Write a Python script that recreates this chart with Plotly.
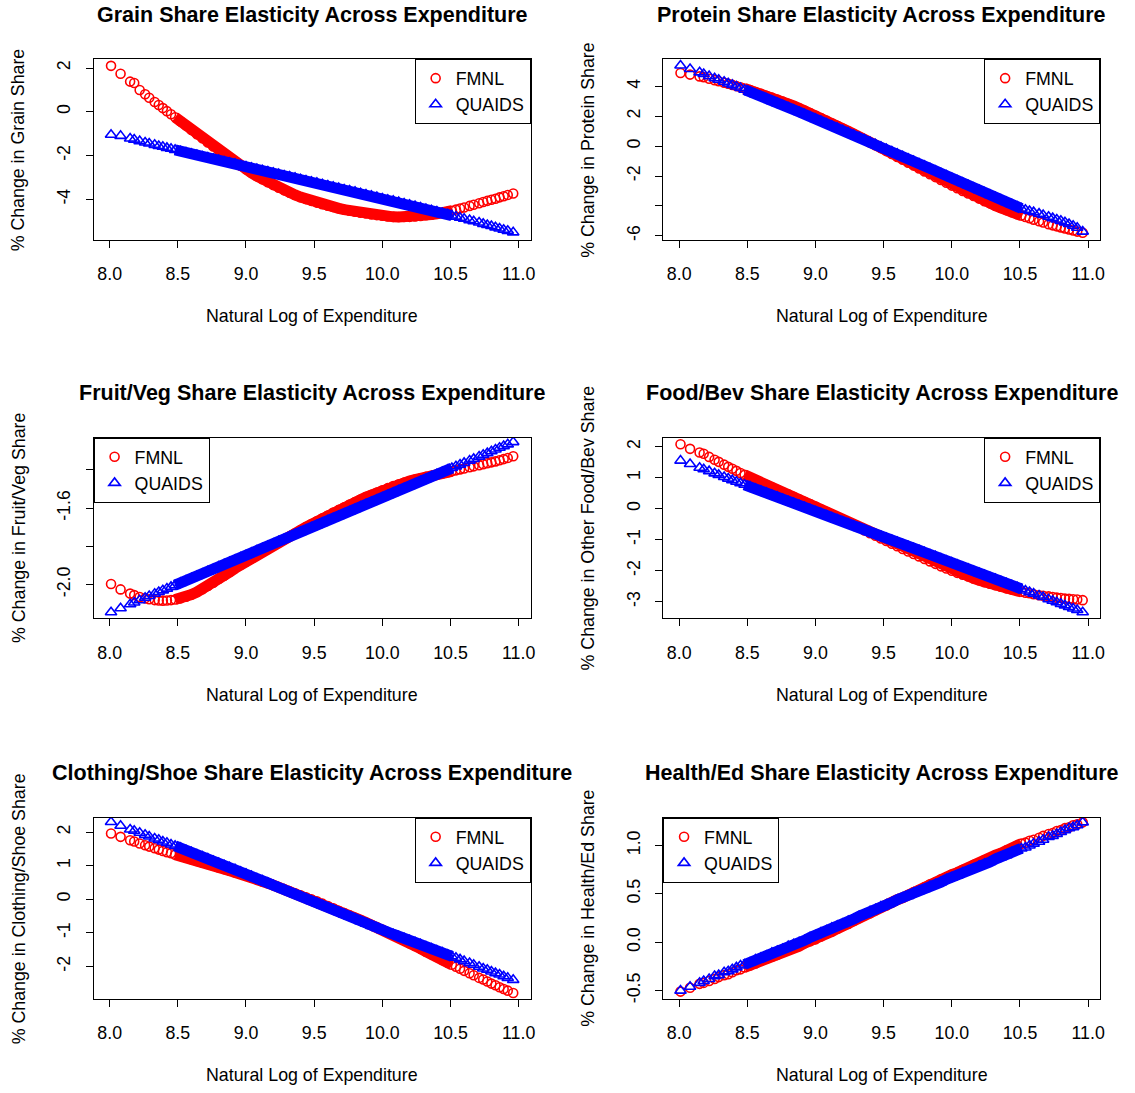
import plotly.graph_objects as go

# ---------------- data ----------------
x_log_exp = [
    8.01, 8.08, 8.15, 8.18, 8.22, 8.26, 8.29, 8.33, 8.36, 8.39, 8.42, 8.45, 8.48,
    8.52, 8.56, 8.60, 8.64, 8.68, 8.72, 8.76, 8.80, 8.84, 8.88,
    8.92, 8.96, 9.00, 9.04, 9.08, 9.12, 9.16, 9.20, 9.24, 9.28,
    9.32, 9.36, 9.40, 9.44, 9.48, 9.52, 9.56, 9.60, 9.64, 9.68,
    9.72, 9.76, 9.80, 9.84, 9.88, 9.92, 9.96, 10.00, 10.04, 10.08,
    10.12, 10.16, 10.20, 10.24, 10.28, 10.32, 10.36, 10.40, 10.44, 10.48,
    10.51, 10.54, 10.57, 10.60, 10.64, 10.67, 10.71, 10.74, 10.77, 10.80,
    10.83, 10.86, 10.89, 10.92, 10.96]

grain_fmnl = [
    2.10, 1.74, 1.38, 1.32, 1.00, 0.80, 0.64, 0.45, 0.31, 0.17, 0.03, -0.11, -0.25,
    -0.44, -0.63, -0.83, -1.02, -1.21, -1.40, -1.58, -1.77, -1.95, -2.13,
    -2.30, -2.47, -2.63, -2.79, -2.94, -3.08, -3.22, -3.35, -3.47, -3.59,
    -3.70, -3.80, -3.90, -3.99, -4.07, -4.15, -4.22, -4.29, -4.35, -4.41,
    -4.47, -4.52, -4.57, -4.61, -4.65, -4.69, -4.72, -4.75, -4.78, -4.80,
    -4.81, -4.81, -4.80, -4.78, -4.76, -4.73, -4.70, -4.66, -4.62, -4.57,
    -4.52, -4.47, -4.42, -4.37, -4.30, -4.25, -4.18, -4.12, -4.07, -4.02,
    -3.97, -3.91, -3.86, -3.80, -3.73]
grain_quaids = [
    -1.05, -1.10, -1.22, -1.27, -1.34, -1.40, -1.45, -1.51, -1.56, -1.60, -1.65, -1.69, -1.74,
    -1.80, -1.86, -1.92, -1.98, -2.04, -2.09, -2.15, -2.21, -2.27, -2.33,
    -2.38, -2.44, -2.50, -2.56, -2.62, -2.67, -2.73, -2.79, -2.85, -2.91,
    -2.96, -3.02, -3.08, -3.14, -3.20, -3.25, -3.31, -3.37, -3.43, -3.49,
    -3.55, -3.60, -3.66, -3.72, -3.78, -3.84, -3.90, -3.96, -4.02, -4.07,
    -4.13, -4.19, -4.25, -4.31, -4.38, -4.44, -4.50, -4.56, -4.63, -4.69,
    -4.74, -4.79, -4.84, -4.89, -4.95, -5.00, -5.06, -5.12, -5.17, -5.22,
    -5.28, -5.33, -5.39, -5.44, -5.51]

protein_fmnl = [
    4.90, 4.79, 4.67, 4.62, 4.51, 4.42, 4.35, 4.25, 4.18, 4.10, 4.02, 3.94, 3.86,
    3.75, 3.63, 3.50, 3.38, 3.25, 3.12, 2.98, 2.84, 2.69, 2.54,
    2.39, 2.22, 2.05, 1.88, 1.71, 1.53, 1.36, 1.18, 1.00, 0.82,
    0.63, 0.44, 0.25, 0.06, -0.13, -0.33, -0.52, -0.72, -0.91, -1.11,
    -1.30, -1.50, -1.69, -1.88, -2.07, -2.26, -2.45, -2.64, -2.82, -3.00,
    -3.17, -3.34, -3.51, -3.68, -3.83, -3.99, -4.14, -4.28, -4.42, -4.56,
    -4.65, -4.74, -4.83, -4.92, -5.03, -5.11, -5.22, -5.30, -5.37, -5.44,
    -5.51, -5.58, -5.65, -5.72, -5.80]
protein_quaids = [
    5.40, 5.17, 4.94, 4.83, 4.69, 4.55, 4.45, 4.31, 4.20, 4.10, 3.99, 3.89, 3.78,
    3.61, 3.46, 3.32, 3.17, 3.02, 2.88, 2.73, 2.58, 2.44, 2.29,
    2.14, 1.99, 1.83, 1.68, 1.52, 1.37, 1.22, 1.06, 0.91, 0.75,
    0.60, 0.44, 0.28, 0.12, -0.04, -0.20, -0.36, -0.52, -0.68, -0.84,
    -1.00, -1.16, -1.32, -1.48, -1.65, -1.81, -1.97, -2.13, -2.30, -2.46,
    -2.62, -2.78, -2.94, -3.10, -3.26, -3.42, -3.58, -3.74, -3.90, -4.06,
    -4.17, -4.26, -4.34, -4.42, -4.52, -4.61, -4.73, -4.82, -4.91, -5.00,
    -5.10, -5.21, -5.33, -5.46, -5.72]

fruitveg_fmnl = [
    -1.997, -2.025, -2.047, -2.055, -2.065, -2.072, -2.077, -2.081, -2.083, -2.084, -2.083, -2.081, -2.078,
    -2.072, -2.063, -2.052, -2.039, -2.024, -2.007, -1.990, -1.971, -1.953, -1.934,
    -1.915, -1.897, -1.880, -1.863, -1.846, -1.829, -1.812, -1.796, -1.780, -1.763,
    -1.747, -1.731, -1.715, -1.699, -1.683, -1.668, -1.653, -1.638, -1.623, -1.609,
    -1.595, -1.581, -1.568, -1.555, -1.542, -1.530, -1.518, -1.506, -1.495, -1.484,
    -1.475, -1.466, -1.458, -1.450, -1.443, -1.436, -1.430, -1.424, -1.418, -1.412,
    -1.407, -1.402, -1.397, -1.392, -1.386, -1.381, -1.375, -1.370, -1.365, -1.360,
    -1.355, -1.349, -1.343, -1.337, -1.328]
fruitveg_quaids = [
    -2.145, -2.124, -2.103, -2.094, -2.082, -2.069, -2.060, -2.048, -2.039, -2.030, -2.021, -2.012, -2.003,
    -1.991, -1.979, -1.967, -1.955, -1.943, -1.931, -1.918, -1.906, -1.894, -1.882,
    -1.870, -1.858, -1.846, -1.834, -1.822, -1.810, -1.798, -1.786, -1.774, -1.761,
    -1.749, -1.737, -1.725, -1.713, -1.701, -1.689, -1.677, -1.665, -1.653, -1.641,
    -1.629, -1.617, -1.604, -1.592, -1.580, -1.568, -1.556, -1.544, -1.532, -1.520,
    -1.508, -1.496, -1.484, -1.472, -1.459, -1.447, -1.435, -1.423, -1.411, -1.399,
    -1.390, -1.381, -1.372, -1.363, -1.351, -1.342, -1.330, -1.321, -1.312, -1.302,
    -1.293, -1.284, -1.275, -1.266, -1.254]

foodbev_fmnl = [
    2.08, 1.93, 1.81, 1.77, 1.67, 1.58, 1.51, 1.42, 1.35, 1.29, 1.22, 1.15, 1.09,
    1.00, 0.92, 0.84, 0.77, 0.69, 0.61, 0.53, 0.46, 0.38, 0.30,
    0.22, 0.15, 0.07, -0.02, -0.10, -0.19, -0.27, -0.36, -0.44, -0.53,
    -0.61, -0.70, -0.79, -0.87, -0.96, -1.04, -1.13, -1.21, -1.30, -1.38,
    -1.46, -1.54, -1.62, -1.70, -1.78, -1.86, -1.93, -2.00, -2.07, -2.13,
    -2.19, -2.25, -2.31, -2.37, -2.42, -2.47, -2.52, -2.57, -2.61, -2.65,
    -2.68, -2.71, -2.73, -2.76, -2.79, -2.81, -2.83, -2.85, -2.87, -2.88,
    -2.90, -2.91, -2.92, -2.93, -2.95]
foodbev_quaids = [
    1.55, 1.44, 1.32, 1.27, 1.21, 1.14, 1.09, 1.02, 0.97, 0.92, 0.87, 0.82, 0.77,
    0.71, 0.64, 0.58, 0.51, 0.44, 0.38, 0.31, 0.24, 0.18, 0.11,
    0.05, -0.02, -0.09, -0.15, -0.22, -0.29, -0.35, -0.42, -0.48, -0.55,
    -0.62, -0.68, -0.75, -0.82, -0.88, -0.95, -1.01, -1.08, -1.15, -1.21,
    -1.28, -1.34, -1.41, -1.48, -1.54, -1.61, -1.68, -1.74, -1.81, -1.88,
    -1.94, -2.01, -2.08, -2.14, -2.21, -2.27, -2.34, -2.41, -2.47, -2.54,
    -2.59, -2.64, -2.69, -2.74, -2.80, -2.85, -2.92, -2.97, -3.02, -3.07,
    -3.12, -3.17, -3.22, -3.27, -3.34]

clothing_fmnl = [
    1.96, 1.86, 1.76, 1.72, 1.66, 1.61, 1.57, 1.52, 1.48, 1.44, 1.40, 1.37, 1.33,
    1.29, 1.24, 1.19, 1.14, 1.09, 1.05, 1.00, 0.95, 0.90, 0.85,
    0.80, 0.76, 0.71, 0.65, 0.59, 0.53, 0.48, 0.42, 0.36, 0.30,
    0.24, 0.18, 0.12, 0.06, 0.00, -0.06, -0.13, -0.20, -0.27, -0.34,
    -0.41, -0.48, -0.55, -0.62, -0.69, -0.76, -0.83, -0.90, -0.98, -1.06,
    -1.14, -1.22, -1.31, -1.39, -1.47, -1.56, -1.64, -1.72, -1.81, -1.89,
    -1.95, -2.01, -2.07, -2.13, -2.20, -2.26, -2.34, -2.39, -2.45, -2.51,
    -2.56, -2.62, -2.67, -2.72, -2.79]
clothing_quaids = [
    2.30, 2.19, 2.08, 2.04, 1.98, 1.92, 1.87, 1.81, 1.77, 1.72, 1.68, 1.63, 1.59,
    1.53, 1.46, 1.40, 1.33, 1.27, 1.21, 1.14, 1.08, 1.01, 0.95,
    0.89, 0.82, 0.76, 0.69, 0.62, 0.56, 0.49, 0.42, 0.35, 0.29,
    0.22, 0.15, 0.09, 0.02, -0.05, -0.11, -0.18, -0.25, -0.31, -0.38,
    -0.45, -0.52, -0.58, -0.65, -0.72, -0.79, -0.85, -0.92, -0.98, -1.04,
    -1.10, -1.16, -1.22, -1.28, -1.34, -1.41, -1.47, -1.53, -1.59, -1.65,
    -1.70, -1.74, -1.79, -1.84, -1.90, -1.95, -2.01, -2.06, -2.10, -2.15,
    -2.20, -2.24, -2.29, -2.34, -2.40]

healthed_fmnl = [
    -0.51, -0.47, -0.43, -0.42, -0.40, -0.38, -0.36, -0.34, -0.33, -0.31, -0.29, -0.28, -0.26,
    -0.24, -0.22, -0.19, -0.17, -0.15, -0.13, -0.10, -0.08, -0.06, -0.04,
    -0.01, 0.01, 0.03, 0.06, 0.09, 0.11, 0.14, 0.17, 0.19, 0.22,
    0.25, 0.28, 0.30, 0.33, 0.36, 0.38, 0.41, 0.44, 0.46, 0.49,
    0.52, 0.54, 0.57, 0.60, 0.62, 0.65, 0.67, 0.70, 0.72, 0.75,
    0.77, 0.80, 0.82, 0.85, 0.87, 0.90, 0.92, 0.95, 0.97, 1.00,
    1.02, 1.03, 1.05, 1.06, 1.08, 1.10, 1.12, 1.13, 1.15, 1.16,
    1.18, 1.19, 1.21, 1.22, 1.24]
healthed_quaids = [
    -0.50, -0.46, -0.42, -0.40, -0.38, -0.35, -0.34, -0.31, -0.30, -0.28, -0.26, -0.24, -0.23,
    -0.21, -0.18, -0.16, -0.14, -0.11, -0.09, -0.07, -0.04, -0.02, 0.00,
    0.02, 0.05, 0.07, 0.10, 0.12, 0.15, 0.17, 0.19, 0.22, 0.24,
    0.27, 0.29, 0.32, 0.34, 0.37, 0.39, 0.41, 0.44, 0.46, 0.48,
    0.51, 0.53, 0.55, 0.58, 0.60, 0.62, 0.65, 0.67, 0.69, 0.72,
    0.74, 0.76, 0.79, 0.81, 0.83, 0.86, 0.88, 0.90, 0.93, 0.95,
    0.97, 0.98, 1.00, 1.02, 1.04, 1.06, 1.09, 1.10, 1.12, 1.14,
    1.16, 1.18, 1.19, 1.21, 1.24]

x_tick_vals = [8.0, 8.5, 9.0, 9.5, 10.0, 10.5, 11.0]
x_tick_text = ["8.0", "8.5", "9.0", "9.5", "10.0", "10.5", "11.0"]
series_names = ["FMNL", "QUAIDS"]

panels = [
    dict(title="Grain Share Elasticity Across Expenditure",
         ytitle="% Change in Grain Share",
         fmnl=grain_fmnl, quaids=grain_quaids,
         yrange=[-5.85, 2.41],
         yticks=[-4, -2, 0, 2], ytext=["-4", "-2", "0", "2"], leg="right"),
    dict(title="Protein Share Elasticity Across Expenditure",
         ytitle="% Change in Protein Share",
         fmnl=protein_fmnl, quaids=protein_quaids,
         yrange=[-6.27, 5.83],
         yticks=[-6, -4, -2, 0, 2, 4], ytext=["-6", "", "-2", "0", "2", "4"], leg="right"),
    dict(title="Fruit/Veg Share Elasticity Across Expenditure",
         ytitle="% Change in Fruit/Veg Share",
         fmnl=fruitveg_fmnl, quaids=fruitveg_quaids,
         yrange=[-2.177, -1.231],
         yticks=[-2.0, -1.8, -1.6, -1.4], ytext=["-2.0", "", "-1.6", ""], leg="left"),
    dict(title="Food/Bev Share Elasticity Across Expenditure",
         ytitle="% Change in Other Food/Bev Share",
         fmnl=foodbev_fmnl, quaids=foodbev_quaids,
         yrange=[-3.54, 2.29],
         yticks=[-3, -2, -1, 0, 1, 2], ytext=["-3", "-2", "-1", "0", "1", "2"], leg="right"),
    dict(title="Clothing/Shoe Share Elasticity Across Expenditure",
         ytitle="% Change in Clothing/Shoe Share",
         fmnl=clothing_fmnl, quaids=clothing_quaids,
         yrange=[-2.97, 2.43],
         yticks=[-2, -1, 0, 1, 2], ytext=["-2", "-1", "0", "1", "2"], leg="right"),
    dict(title="Health/Ed Share Elasticity Across Expenditure",
         ytitle="% Change in Health/Ed Share",
         fmnl=healthed_fmnl, quaids=healthed_quaids,
         yrange=[-0.587, 1.288],
         yticks=[-0.5, 0.0, 0.5, 1.0], ytext=["-0.5", "0.0", "0.5", "1.0"], leg="left"),
]

# ---------------- layout geometry ----------------
W, H = 1135, 1093
FONT = "Liberation Sans, Arial, Helvetica, sans-serif"
FS = 17.8          # base text size
FS_TITLE = 21.5    # bold panel titles
col_px = [(94, 533), (666, 1105)]
row_px = [(59.3, 240.7), (439.3, 620.7), (820.7, 1002.7)]
x_range = [7.882, 11.088]
dense = slice(12, 64)   # where the overplotted points merge into a solid band
RED, BLUE = "#ff0000", "#0000ff"

fig = go.Figure()
layout = dict(
    width=W, height=H, margin=dict(l=0, r=0, t=0, b=0),
    paper_bgcolor="white", plot_bgcolor="white",
    font=dict(family=FONT, size=FS, color="black"),
    annotations=[],
)

for i, p in enumerate(panels):
    n = i + 1
    r, c = divmod(i, 2)
    x0, x1 = col_px[c]
    ytop, ybot = row_px[r]
    xd = [x0 / W, x1 / W]
    yd = [1 - ybot / H, 1 - ytop / H]
    xa = "x" if n == 1 else f"x{n}"
    ya = "y" if n == 1 else f"y{n}"
    leg = "legend" if n == 1 else f"legend{n}"

    for key, name, color, symbol, size, width in [
            ("fmnl", series_names[0], RED, "circle-open", 9, 11),
            ("quaids", series_names[1], BLUE, "triangle-up-open", 10, 11)]:
        # overplotted dense core of the point cloud
        fig.add_trace(go.Scatter(
            x=x_log_exp[dense], y=p[key][dense], mode="lines",
            xaxis=xa, yaxis=ya, showlegend=False, hoverinfo="skip",
            line=dict(color=color, width=width)))
        fig.add_trace(go.Scatter(
            x=x_log_exp, y=p[key], mode="markers", name=name,
            xaxis=xa, yaxis=ya, legend=leg,
            marker=dict(symbol=symbol, size=size, color=color,
                        line=dict(width=1.6, color=color))))

    xkey = "xaxis" if n == 1 else f"xaxis{n}"
    ykey = "yaxis" if n == 1 else f"yaxis{n}"
    layout[xkey] = dict(
        domain=xd, range=x_range, anchor=ya, showgrid=False, zeroline=False,
        showline=True, mirror=True, linecolor="black", linewidth=1,
        ticks="outside", ticklen=7, tickwidth=1, tickcolor="black",
        tickvals=x_tick_vals, ticktext=x_tick_text,
        tickfont=dict(size=FS, family=FONT, color="black"),
        ticklabelstandoff=11)
    layout[ykey] = dict(
        domain=yd, range=p["yrange"], anchor=xa, showgrid=False, zeroline=False,
        showline=True, mirror=True, linecolor="black", linewidth=1,
        ticks="outside", ticklen=7, tickwidth=1, tickcolor="black",
        tickvals=p["yticks"], ticktext=p["ytext"], tickangle=-90,
        tickfont=dict(size=FS, family=FONT, color="black"),
        ticklabelstandoff=8)

    if p["leg"] == "right":
        lx, xanc = xd[1], "right"
    else:
        lx, xanc = xd[0], "left"
    layout[leg] = dict(
        x=lx, y=yd[1], xanchor=xanc, yanchor="top",
        bordercolor="black", borderwidth=1, bgcolor="white",
        font=dict(size=FS, family=FONT, color="black"),
        itemwidth=30, tracegroupgap=0)

    xc = (x0 + x1) / 2 / W
    layout["annotations"].append(dict(
        text=f"<b>{p['title']}</b>", x=xc, y=1 - (ytop - 44.5) / H,
        xref="paper", yref="paper", xanchor="center", yanchor="middle",
        showarrow=False, font=dict(size=FS_TITLE, family=FONT, color="black")))
    layout["annotations"].append(dict(
        text="Natural Log of Expenditure", x=xc, y=1 - (ybot + 76.5) / H,
        xref="paper", yref="paper", xanchor="center", yanchor="middle",
        showarrow=False, font=dict(size=FS, family=FONT, color="black")))
    layout["annotations"].append(dict(
        text=p["ytitle"], x=(x0 - 75) / W, y=1 - (ytop + ybot) / 2 / H,
        xref="paper", yref="paper", xanchor="center", yanchor="middle",
        textangle=-90, showarrow=False,
        font=dict(size=FS, family=FONT, color="black")))

fig.update_layout(**layout)
fig.write_html("out.html", config={"displayModeBar": False},
               post_script="document.body.style.margin='0px';document.body.style.overflow='hidden';")
